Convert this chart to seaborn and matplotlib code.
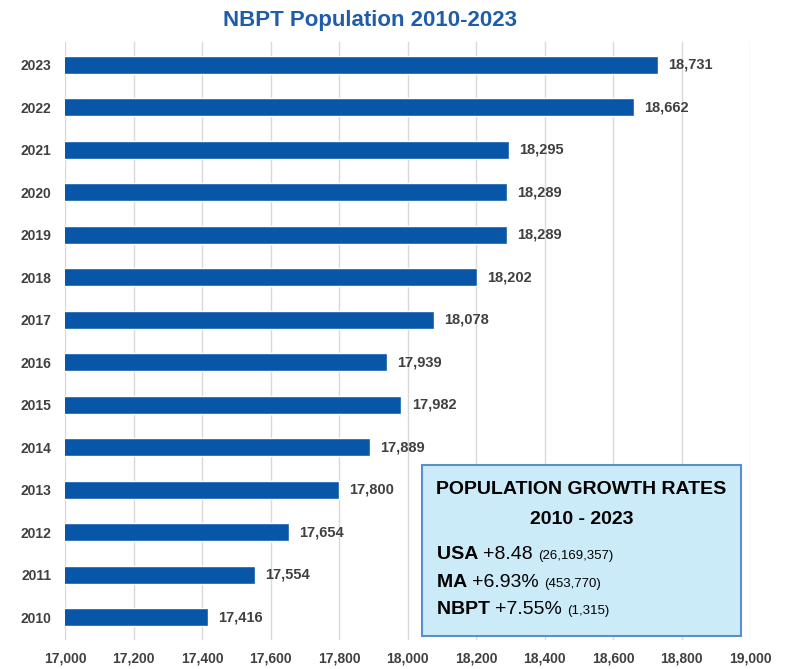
import numpy as np
import pandas as pd
import matplotlib.pyplot as plt
import seaborn as sb

sb.set(style="white")
plt.rcParams['font.family'] = ['Liberation Sans Narrow', 'Liberation Sans', 'DejaVu Sans']

years = ["2010", "2011", "2012", "2013", "2014", "2015", "2016",
         "2017", "2018", "2019", "2020", "2021", "2022", "2023"]
population = [17416, 17554, 17654, 17800, 17889, 17982, 17939,
              18078, 18202, 18289, 18289, 18295, 18662, 18731]
xticks = list(range(17000, 19001, 200))

box_title = ["POPULATION GROWTH RATES", "2010 - 2023"]
box_rows = [("USA", "+8.48", "(26,169,357)"),
            ("MA", "+6.93%", "(453,770)"),
            ("NBPT", "+7.55%", "(1,315)")]

df = pd.DataFrame({"year": years, "population": population})
order = years[::-1]

fig = plt.figure(figsize=(7.91, 6.69), dpi=100)
ax = fig.add_axes([0.0822, 0.0433, 0.866, 0.894])

sb.barplot(data=df, x="population", y="year", order=order, orient="h",
           color="#0856A8", saturation=1, width=0.42, ax=ax)

ax.set_xlim(17000, 19000)
ax.set_ylim(len(order) - 0.46, -0.54)
ax.set_xticks(xticks)
ax.set_xticklabels([f"{v:,}" for v in xticks], fontsize=10, fontweight="bold", color="#404040")
ax.tick_params(axis="x", pad=8, length=0)
ax.tick_params(axis="y", pad=10, length=0, labelsize=10, labelcolor="#404040")
for lab in ax.get_yticklabels():
    lab.set_fontweight("bold")
ax.grid(axis="x", color="#D9D9D9", linewidth=1)
ax.set_axisbelow(True)
for s in ax.spines.values():
    s.set_visible(False)
ax.set_xlabel("")
ax.set_ylabel("")

for i, yr in enumerate(order):
    v = population[years.index(yr)]
    ax.text(v + 30, i, f"{v:,}", va="center", ha="left", fontsize=10.5,
            fontweight="bold", color="#404040")

fig.text(0.468, 0.970, "NBPT Population 2010-2023", ha="center", va="center",
         fontsize=16, fontweight="bold", color="#1F5DAA")

# info box
bx0, by0, bw, bh = 422 / 791, 1 - 636 / 669, 319 / 791, 171 / 669
box = plt.Rectangle((bx0, by0), bw, bh, transform=fig.transFigure,
                    facecolor="#CCEBF9", edgecolor="#5B8FC8", linewidth=1.5, zorder=5)
fig.patches.append(box)
cx = bx0 + bw / 2
fig.text(cx, 1 - 489 / 669, box_title[0], ha="center", va="center", fontsize=14,
         fontweight="bold", color="black", zorder=6)
fig.text(cx, 1 - 519 / 669, box_title[1], ha="center", va="center", fontsize=14,
         fontweight="bold", color="black", zorder=6)

fig.canvas.draw()
renderer = fig.canvas.get_renderer()
row_y = [559, 587, 614]
for (name, pct, num), yy in zip(box_rows, row_y):
    x = 437 / 791
    y = 1 - yy / 669
    parts = [(name + " ", 14, "bold"), (pct + " ", 14, "normal"), (num, 9.5, "normal")]
    for txt, size, weight in parts:
        t = fig.text(x, y, txt, ha="left", va="baseline", fontsize=size,
                     fontweight=weight, color="black", zorder=6)
        bb = t.get_window_extent(renderer)
        x += bb.width / fig.bbox.width

fig.savefig("out.png", dpi=100)
